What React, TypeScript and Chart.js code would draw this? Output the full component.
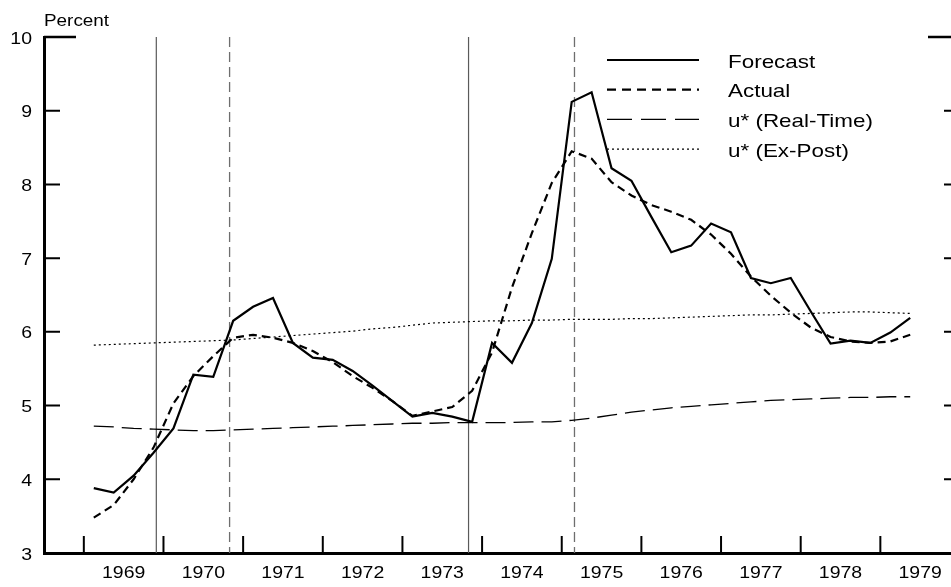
import React, { useEffect, useRef } from 'react';
import { Chart, registerables } from 'chart.js';

Chart.register(...registerables);

// ---------- data ----------
const quarters: string[] = [
  '1969Q1', '1969Q2', '1969Q3', '1969Q4',
  '1970Q1', '1970Q2', '1970Q3', '1970Q4',
  '1971Q1', '1971Q2', '1971Q3', '1971Q4',
  '1972Q1', '1972Q2', '1972Q3', '1972Q4',
  '1973Q1', '1973Q2', '1973Q3', '1973Q4',
  '1974Q1', '1974Q2', '1974Q3', '1974Q4',
  '1975Q1', '1975Q2', '1975Q3', '1975Q4',
  '1976Q1', '1976Q2', '1976Q3', '1976Q4',
  '1977Q1', '1977Q2', '1977Q3', '1977Q4',
  '1978Q1', '1978Q2', '1978Q3', '1978Q4',
  '1979Q1', '1979Q2',
];

const forecast: number[] = [
  3.88, 3.82, 4.05, 4.36, 4.69, 5.42, 5.39, 6.15, 6.34, 6.46,
  5.85, 5.65, 5.62, 5.47, 5.27, 5.06, 4.85, 4.90, 4.85, 4.78,
  5.85, 5.58, 6.12, 6.99, 9.12, 9.25, 8.22, 8.05, 7.56, 7.08,
  7.17, 7.47, 7.35, 6.73, 6.66, 6.73, 6.28, 5.84, 5.88, 5.85,
  5.99, 6.19,
];

const actual: number[] = [
  3.48, 3.65, 4.00, 4.43, 5.03, 5.40, 5.67, 5.92, 5.96, 5.92,
  5.85, 5.74, 5.59, 5.40, 5.24, 5.06, 4.86, 4.92, 4.98, 5.20,
  5.72, 6.60, 7.34, 8.02, 8.45, 8.35, 8.03, 7.85, 7.72, 7.63,
  7.52, 7.32, 7.06, 6.75, 6.49, 6.26, 6.06, 5.93, 5.87, 5.85,
  5.87, 5.96,
];

const uStarRealTime: number[] = [
  4.72, 4.71, 4.69, 4.68, 4.67, 4.66, 4.66, 4.67, 4.68, 4.69,
  4.70, 4.71, 4.72, 4.73, 4.74, 4.75, 4.76, 4.76, 4.77, 4.77,
  4.77, 4.77, 4.78, 4.78, 4.80, 4.83, 4.87, 4.91, 4.94, 4.97,
  4.99, 5.01, 5.03, 5.05, 5.07, 5.08, 5.09, 5.10, 5.11, 5.11,
  5.12, 5.12,
];

const uStarExPost: number[] = [
  5.82, 5.83, 5.84, 5.85, 5.86, 5.87, 5.88, 5.89, 5.91, 5.93,
  5.95, 5.97, 5.99, 6.01, 6.04, 6.06, 6.09, 6.12, 6.13, 6.14,
  6.15, 6.15, 6.16, 6.16, 6.17, 6.17, 6.17, 6.18, 6.18, 6.19,
  6.20, 6.21, 6.22, 6.23, 6.23, 6.24, 6.25, 6.26, 6.27, 6.27,
  6.26, 6.25,
];

const yearLabels: number[] = [1969, 1970, 1971, 1972, 1973, 1974, 1975, 1976, 1977, 1978, 1979];
const yTickValues: number[] = [3, 4, 5, 6, 7, 8, 9, 10];
const peakDates: number[] = [1969.91, 1973.83];
const troughDates: number[] = [1970.83, 1975.16];
const yAxisTitle = 'Percent';

// ---------- helpers ----------
const FONT = '"Liberation Sans", Arial, Helvetica, sans-serif';
const STRETCH = 1.18;

function quarterToValue(q: string): number {
  const y = parseInt(q.slice(0, 4), 10);
  const n = parseInt(q.slice(5), 10);
  return y + (n - 0.5) / 4;
}

function series(values: number[]) {
  return values.map((v, i) => ({ x: quarterToValue(quarters[i]), y: v }));
}

function stretchedText(
  ctx: CanvasRenderingContext2D,
  text: string,
  x: number,
  y: number,
  align: 'left' | 'right' | 'center',
  size: number,
) {
  ctx.save();
  ctx.font = `${size}px ${FONT}`;
  ctx.fillStyle = '#000';
  ctx.textAlign = 'left';
  ctx.textBaseline = 'alphabetic';
  const w = ctx.measureText(text).width * STRETCH;
  const left = align === 'right' ? x - w : align === 'center' ? x - w / 2 : x;
  ctx.translate(left, y);
  ctx.scale(STRETCH, 1);
  ctx.fillText(text, 0, 0);
  ctx.restore();
}

const framePlugin = {
  id: 'framePlugin',
  beforeDatasetsDraw(chart: any) {
    const { ctx, chartArea, scales } = chart;
    const xs = scales.x;
    ctx.save();
    ctx.strokeStyle = '#5a5a5a';
    ctx.lineWidth = 1.2;
    peakDates.forEach((d) => {
      const px = xs.getPixelForValue(d);
      ctx.beginPath();
      ctx.moveTo(px, chartArea.top);
      ctx.lineTo(px, chartArea.bottom);
      ctx.stroke();
    });
    ctx.strokeStyle = '#6e6e6e';
    ctx.lineWidth = 1.3;
    ctx.setLineDash([10, 5]);
    troughDates.forEach((d) => {
      const px = xs.getPixelForValue(d);
      ctx.beginPath();
      ctx.moveTo(px, chartArea.top);
      ctx.lineTo(px, chartArea.bottom);
      ctx.stroke();
    });
    ctx.restore();
  },
  afterDraw(chart: any) {
    const { ctx, chartArea, scales } = chart;
    const xs = scales.x;
    const ys = scales.y;
    const { left, right, bottom } = chartArea;
    ctx.save();
    ctx.strokeStyle = '#000';
    ctx.setLineDash([]);

    // y ticks (both sides, pointing inward)
    yTickValues.forEach((v) => {
      if (v === ys.min) return;
      const py = ys.getPixelForValue(v);
      const len = v === ys.max ? 32 : 16;
      ctx.lineWidth = v === ys.max ? 2.6 : 2;
      ctx.beginPath();
      ctx.moveTo(left, py);
      ctx.lineTo(left + len, py);
      ctx.moveTo(right, py);
      ctx.lineTo(right - len, py);
      ctx.stroke();
    });

    // x ticks at year boundaries (pointing upward)
    ctx.lineWidth = 2;
    yearLabels.forEach((yr) => {
      const px = xs.getPixelForValue(yr);
      ctx.beginPath();
      ctx.moveTo(px, bottom);
      ctx.lineTo(px, bottom - 17);
      ctx.stroke();
    });
    ctx.restore();

    // tick labels
    yTickValues.forEach((v) => {
      const py = ys.getPixelForValue(v);
      stretchedText(ctx, String(v), left - 12, py + 6.5, 'right', 16.5);
    });
    yearLabels.forEach((yr) => {
      const px = xs.getPixelForValue(yr + 0.5);
      stretchedText(ctx, String(yr), px, bottom + 24.5, 'center', 16.5);
    });

    // axis title
    stretchedText(ctx, yAxisTitle, left, 25.5, 'left', 16);

    // legend
    const datasets = chart.data.datasets;
    datasets.forEach((ds: any, i: number) => {
      const ly = 60 + i * 29.7;
      ctx.save();
      ctx.strokeStyle = ds.borderColor;
      ctx.lineWidth = ds.borderWidth;
      ctx.setLineDash(ds.legendDash || ds.borderDash || []);
      ctx.beginPath();
      ctx.moveTo(607, ly);
      ctx.lineTo(699, ly);
      ctx.stroke();
      ctx.restore();
      stretchedText(ctx, ds.label, 728, ly + 7.5, 'left', 19);
    });
  },
};

export default function App() {
  const canvasRef = useRef<HTMLCanvasElement | null>(null);

  useEffect(() => {
    if (!canvasRef.current) return;
    const chart = new Chart(canvasRef.current, {
      type: 'line',
      data: {
        datasets: [
          {
            label: 'Forecast',
            data: series(forecast),
            borderColor: '#000',
            borderWidth: 2.2,
            pointRadius: 0,
            tension: 0,
            fill: false,
          },
          {
            label: 'Actual',
            data: series(actual),
            borderColor: '#000',
            borderWidth: 2.2,
            borderDash: [8, 5],
            legendDash: [9, 6],
            pointRadius: 0,
            tension: 0,
            fill: false,
          } as any,
          {
            label: 'u* (Real-Time)',
            data: series(uStarRealTime),
            borderColor: '#000',
            borderWidth: 1.3,
            borderDash: [20, 8],
            legendDash: [25, 9],
            pointRadius: 0,
            tension: 0,
            fill: false,
          } as any,
          {
            label: 'u* (Ex-Post)',
            data: series(uStarExPost),
            borderColor: '#000',
            borderWidth: 1.2,
            borderDash: [2, 3],
            pointRadius: 0,
            tension: 0,
            fill: false,
          },
        ],
      },
      options: {
        responsive: false,
        animation: false,
        devicePixelRatio: 1,
        events: [],
        parsing: true as any,
        layout: { padding: { top: 37, right: 15, left: 0, bottom: 0 } },
        plugins: {
          legend: { display: false },
          tooltip: { enabled: false },
          title: { display: false },
        },
        scales: {
          x: {
            type: 'linear',
            position: 'bottom',
            min: 1968.5,
            max: 1980,
            grid: { display: false },
            border: { display: true, color: '#000', width: 3 },
            ticks: { display: false },
            afterFit: (s: any) => {
              s.height = 34;
            },
          },
          y: {
            type: 'linear',
            position: 'left',
            min: 3,
            max: 10,
            grid: { display: false },
            border: { display: true, color: '#000', width: 3 },
            ticks: { display: false, stepSize: 1 },
            afterFit: (s: any) => {
              s.width = 44;
            },
          },
        },
      } as any,
      plugins: [framePlugin],
    });
    return () => chart.destroy();
  }, []);

  return (
    <div
      style={{
        position: 'fixed',
        left: 0,
        top: 0,
        width: 951,
        height: 587,
        overflow: 'hidden',
        background: '#fff',
      }}
    >
      <canvas ref={canvasRef} width={975} height={587} style={{ display: 'block' }} />
    </div>
  );
}
